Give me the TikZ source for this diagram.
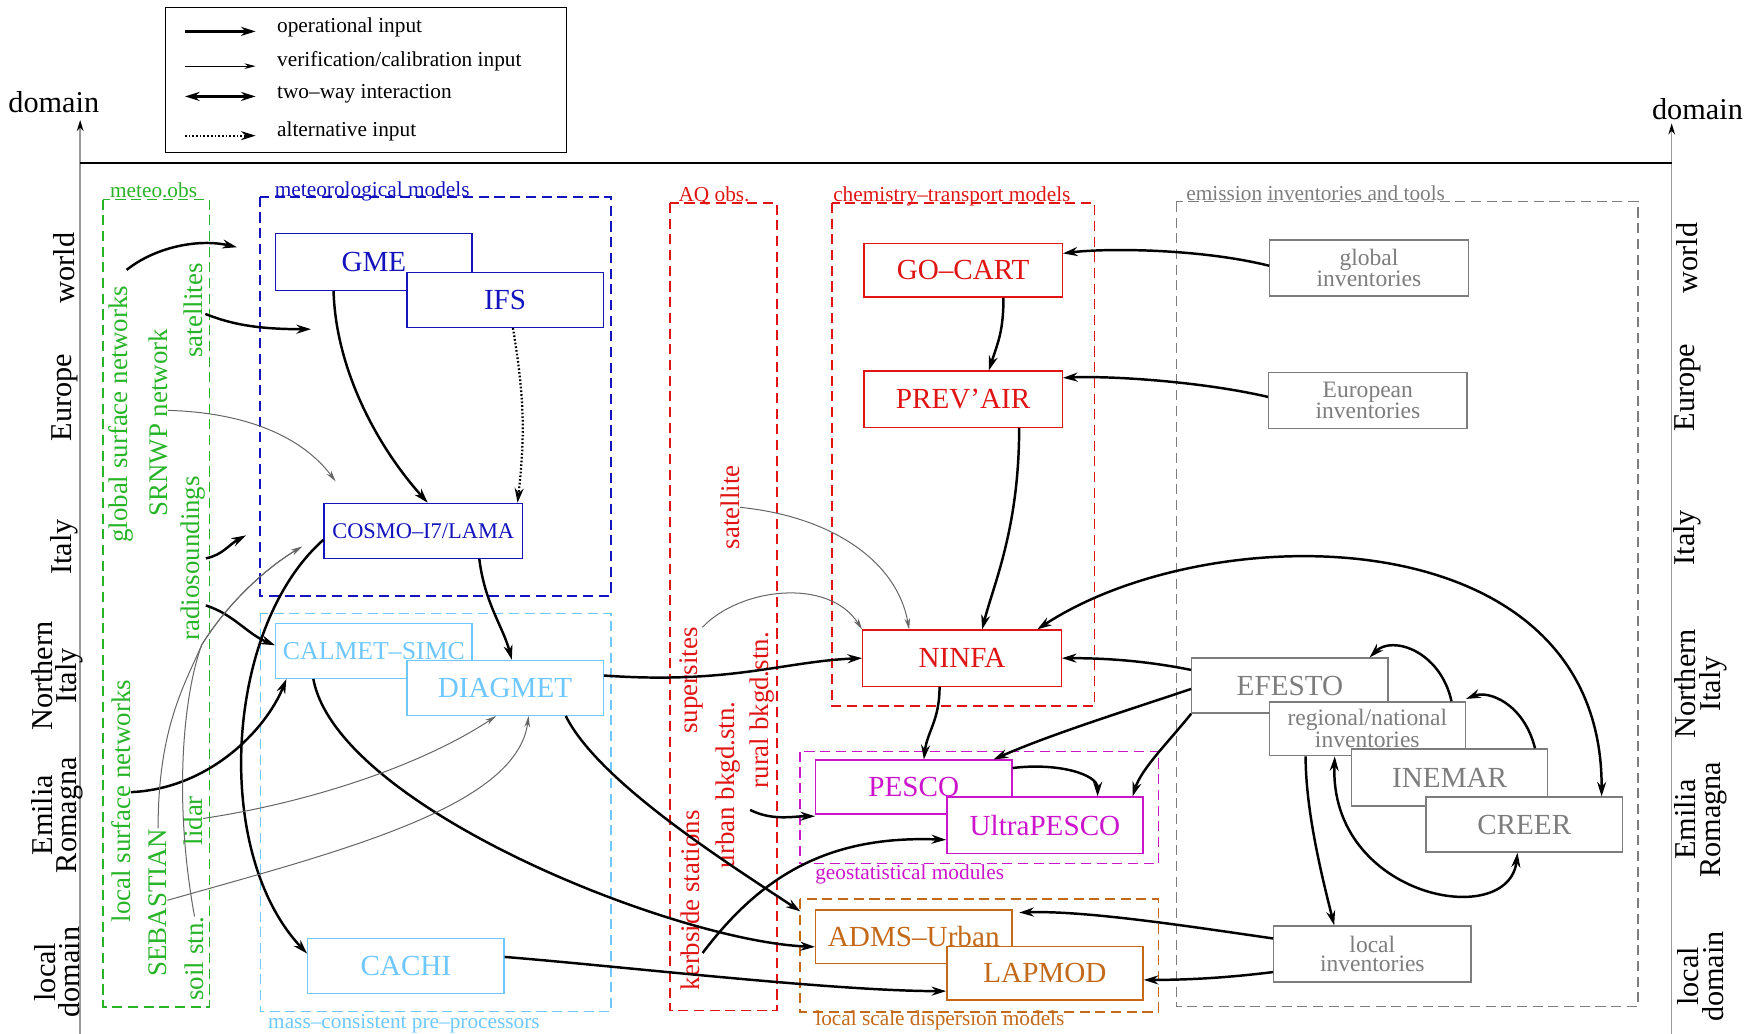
\documentclass[tikz,border=0pt]{standalone}
\usepackage{fontspec}
\setmainfont{Liberation Serif}
\usetikzlibrary{arrows.meta}

\definecolor{obsgreen}{RGB}{40,180,40}
\definecolor{metblue}{RGB}{20,20,190}
\definecolor{preblue}{RGB}{110,200,255}
\definecolor{aqred}{RGB}{225,20,20}
\definecolor{geomag}{RGB}{205,20,205}
\definecolor{dispbrown}{RGB}{195,105,25}
\definecolor{emisgray}{RGB}{125,125,125}

\tikzset{
  box/.style={draw, rectangle, fill=white, line width=1.2pt, minimum width=175pt,
    minimum height=49pt, inner sep=0pt, font=\fontsize{26}{28}\selectfont},
  metbox/.style={box, draw=metblue, text=metblue},
  prebox/.style={box, draw=preblue, text=preblue},
  ctmbox/.style={box, draw=aqred, text=aqred},
  geobox/.style={box, draw=geomag, text=geomag},
  dispbox/.style={box, draw=dispbrown, text=dispbrown},
  emisbox/.style={box, draw=emisgray, text=emisgray},
  invbox/.style={emisbox, align=center, font=\fontsize{21}{17}\selectfont},
  op/.style={-{Stealth[length=13pt,width=8pt]}, line width=2.2pt},
  twoway/.style={{Stealth[length=13pt,width=8pt]}-{Stealth[length=13pt,width=8pt]}, line width=2.2pt},
  alt/.style={-{Stealth[length=13pt,width=8pt]}, line width=2pt, dash pattern=on 1.5pt off 1.8pt},
  ver/.style={-{Stealth[length=10pt,width=5pt]}, line width=0.9pt, black!60},
  grp/.style={line width=1.3pt, dash pattern=on 9pt off 5pt},
  glabel/.style={anchor=base west, inner sep=0pt, font=\fontsize{19}{19}\selectfont},
  obs/.style={rotate=90, inner sep=0pt, font=\fontsize{24}{24}\selectfont},
  dom/.style={rotate=90, inner sep=0pt, align=center, font=\fontsize{27}{22}\selectfont},
  key/.style={anchor=base west, inner sep=0pt, font=\fontsize{19}{19}\selectfont},
  axis/.style={line width=1.3pt, black!40, -{Stealth[length=10pt,width=6pt,color=black]}},
}

\begin{document}
\begin{tikzpicture}[x=1pt, y=-1pt]
  \useasboundingbox (0,0) rectangle (1568,922);

  % Legend
  \draw[line width=1.2pt] (147.5,6.5) rectangle (505,136);
  \coordinate (k1a) at (165,28);  \coordinate (k1b) at (228,28);
  \coordinate (k2a) at (165,59);  \coordinate (k2b) at (228,59);
  \coordinate (k3a) at (165,86);  \coordinate (k3b) at (228,86);
  \coordinate (k4a) at (165,121); \coordinate (k4b) at (228,121);
  \draw[op] (k1a) -- (k1b);
  \draw[ver, black, line width=1.1pt] (k2a) -- (k2b);
  \draw[twoway] (k3a) -- (k3b);
  \draw[alt] (k4a) -- (k4b);
  \node[key] (kop) at (247,29) {operational input};
  \node[key] (kver) at (247,59) {verification/calibration input};
  \node[key] (ktwo) at (247,88) {two--way interaction};
  \node[key] (kalt) at (247,122) {alternative input};

  % Domain axes
  \coordinate (axLb) at (71.5,922); \coordinate (axLt) at (71.5,107);
  \coordinate (axRb) at (1491,922); \coordinate (axRt) at (1491,110);
  \coordinate (topL) at (71.5,145); \coordinate (topR) at (1491,145);
  \draw[axis] (axLb) -- (axLt);
  \draw[axis] (axRb) -- (axRt);
  \draw[line width=1.8pt] (topL) -- (topR);
  \node[font=\fontsize{27}{27}\selectfont] (domL) at (48,91) {domain};
  \node[font=\fontsize{27}{27}\selectfont] (domR) at (1514,97) {domain};

  \node[dom] (wL) at (57.5,239) {world};
  \node[dom] (eL) at (57.5,354.5) {Europe};
  \node[dom] (iL) at (57.5,488) {Italy};
  \node[dom] (niL) at (51,603) {Northern\\Italy};
  \node[dom] (erL) at (51,727) {Emilia\\Romagna};
  \node[dom] (ldL) at (51,867) {local\\domain};
  \node[dom] (wR) at (1505,230) {world};
  \node[dom] (eR) at (1505,345.5) {Europe};
  \node[dom] (iR) at (1505,479.5) {Italy};
  \node[dom] (niR) at (1517,610) {Northern\\Italy};
  \node[dom] (erR) at (1517,731) {Emilia\\Romagna};
  \node[dom] (ldR) at (1517,871) {local\\domain};

  % Groups
  \draw[grp, obsgreen] (92,178) rectangle (187,898);
  \node[glabel, text=obsgreen] (gobs) at (98,176) {meteo.obs};
  \draw[grp, metblue] (232,175.5) rectangle (545,531.5);
  \node[glabel, text=metblue] (gmet) at (245,175) {meteorological models};
  \draw[grp, preblue, line width=1pt] (232,547) rectangle (545,902.5);
  \node[glabel, text=preblue] (gpre) at (239,917) {mass--consistent pre--processors};
  \draw[grp, aqred] (597.5,181) rectangle (693,901.5);
  \node[glabel, text=aqred] (gaq) at (605,180) {AQ obs.};
  \draw[grp, aqred] (742,181) rectangle (976,629.5);
  \node[glabel, text=aqred] (gctm) at (743,180) {chemistry--transport models};
  \draw[grp, geomag] (713.5,670.5) rectangle (1033.5,770);
  \node[glabel, text=geomag] (ggeo) at (727,784) {geostatistical modules};
  \draw[grp, dispbrown] (713.5,802) rectangle (1033.5,902.5);
  \node[glabel, text=dispbrown] (gdisp) at (727,915) {local scale dispersion models};
  \draw[grp, emisgray, line width=1pt] (1049,180) rectangle (1461,898);
  \node[glabel, text=emisgray] (gemis) at (1058,179) {emission inventories and tools};

  % Observations
  \node[obs, text=obsgreen] (gsn) at (108,369.5) {global surface networks};
  \node[obs, text=obsgreen] (srnwp) at (141,377) {SRNWP network};
  \node[obs, text=obsgreen] (sats) at (172.5,277) {satellites};
  \node[obs, text=obsgreen] (radio) at (172.5,498) {radiosoundings};
  \node[obs, text=obsgreen] (lsn) at (108,714.5) {local surface networks};
  \node[obs, text=obsgreen] (seb) at (141,805) {SEBASTIAN};
  \node[obs, text=obsgreen] (lidar) at (172.5,732) {lidar};
  \node[obs, text=obsgreen] (soil) at (173.5,855) {soil stn.};
  \node[obs, text=aqred] (sat) at (651.5,452.5) {satellite};
  \node[obs, text=aqred] (super) at (616.5,607) {supersites};
  \node[obs, text=aqred] (urban) at (649,700) {urban bkgd.stn.};
  \node[obs, text=aqred] (rural) at (680,633.5) {rural bkgd.stn.};
  \node[obs, text=aqred] (kerb) at (616,803) {kerbside stations};

  % Models
  \node[metbox, minimum height=51pt] (GME) at (333.5,233.5) {GME};
  \node[metbox] (IFS) at (450.5,267.5) {IFS};
  \node[metbox, minimum width=177pt, font=\fontsize{20}{20}\selectfont] (COSMO) at (377.5,473.5) {COSMO--I7/LAMA};
  \node[prebox, font=\fontsize{23}{23}\selectfont] (CALMET) at (333.5,580.5) {CALMET--SIMC};
  \node[prebox] (DIAGMET) at (450.5,613.5) {DIAGMET};
  \node[prebox] (CACHI) at (362,861.5) {CACHI};
  \node[ctmbox, minimum width=177pt, minimum height=48pt] (GOCART) at (859,241) {GO--CART};
  \node[ctmbox, minimum width=177pt, minimum height=50pt] (PREVAIR) at (859,356) {PREV’AIR};
  \node[ctmbox, minimum width=177pt, minimum height=50pt] (NINFA) at (858,587) {NINFA};
  \node[geobox, minimum height=48pt] (PESCO) at (815,702) {PESCO};
  \node[geobox, minimum height=50pt] (UPESCO) at (932,736) {UltraPESCO};
  \node[dispbox, minimum height=48pt] (ADMS) at (815,835.5) {ADMS--Urban};
  \node[dispbox, minimum height=48pt] (LAPMOD) at (932,868) {LAPMOD};
  \node[invbox, minimum width=177pt, minimum height=50pt] (GLOB) at (1221,239) {global\\inventories};
  \node[invbox, minimum width=177pt, minimum height=50pt] (EURO) at (1220,357) {European\\inventories};
  \node[emisbox] (EFESTO) at (1150.5,611.5) {EFESTO};
  \node[invbox, minimum height=48pt] (REG) at (1219.5,650) {regional/national\\inventories};
  \node[emisbox, minimum height=51pt] (INEMAR) at (1293,693.5) {INEMAR};
  \node[emisbox] (CREER) at (1359.5,735.5) {CREER};
  \node[invbox, minimum width=176pt, minimum height=50pt] (LOCAL) at (1224,851) {local\\inventories};

  % Operational input
  \draw[op] ([xshift=5pt,yshift=14pt]gsn.east) .. controls +(25,-20) and +(-35,-8) .. ([xshift=-34pt,yshift=13pt]GME.west);
  \draw[op] ([xshift=2pt,yshift=-3pt]sats.south) .. controls +(25,10) and +(-45,0) .. ([xshift=32pt,yshift=-34pt]GME.south west);
  \draw[op] (radio.south) .. controls +(15,-3) and +(-15,8) .. ([xshift=-69pt,yshift=-4pt]COSMO.west);
  \draw[op] ([yshift=-42pt]radio.south) .. controls +(25,8) and +(-25,-10) .. ([yshift=5pt]CALMET.west);
  \draw[op] ([yshift=8pt]lsn.south) .. controls +(70,-3) and +(-18,45) .. ([xshift=10pt]CALMET.south west);
  \draw[op] ([yshift=-8pt]COSMO.west) .. controls +(-88,78) and +(-85,-90) .. ([yshift=11pt]CACHI.west);
  \draw[op] ([xshift=-36pt]GME.south) .. controls +(2,70) and +(-45,-50) .. ([xshift=4pt]COSMO.north);
  \draw[alt] ([xshift=7pt]IFS.south) to[bend left=8] ([xshift=-5pt]COSMO.north east);
  \draw[op] ([xshift=50pt]COSMO.south) .. controls +(5,40) and +(-8,-30) .. ([xshift=6pt]DIAGMET.north);
  \draw[op] ([yshift=11pt]DIAGMET.east) .. controls +(112,8) and +(-70,3) .. (NINFA.west);
  \draw[op] ([xshift=-34pt]DIAGMET.south east) .. controls +(30,60) and +(-60,-40) .. ([xshift=-13pt,yshift=-2pt]ADMS.north west);
  \draw[op] ([xshift=-54pt]CALMET.south) .. controls +(21,114) and +(-125,-5) .. ([yshift=-9pt]ADMS.west);
  \draw[op] ([yshift=8pt]CACHI.east) .. controls +(100,8) and +(-100,0) .. ([yshift=-16pt]LAPMOD.west);
  \draw[op] ([xshift=2pt,yshift=-47pt]kerb.south) .. controls +(53,-70) and +(-104,-4) .. ([yshift=-13pt]UPESCO.west);
  \draw[op] ([xshift=-11pt,yshift=-19pt]rural.west) .. controls +(20,10) and +(-20,0) .. ([yshift=-26pt]PESCO.west);
  \draw[op] ([xshift=36pt]GOCART.south) .. controls +(0,30) and +(8,-25) .. ([xshift=23pt]PREVAIR.north);
  \draw[op] ([xshift=50pt]PREVAIR.south) .. controls +(0,90) and +(10,-40) .. ([xshift=18pt]NINFA.north);
  \draw[op] ([xshift=-20pt]NINFA.south) .. controls +(0,30) and +(3,-25) .. ([xshift=9pt]PESCO.north);
  \draw[op] ([yshift=2pt]GLOB.west) .. controls +(-60,-15) and +(40,-5) .. ([yshift=15pt]GOCART.east);
  \draw[op] ([yshift=3pt]EURO.west) .. controls +(-60,-14) and +(40,-2) .. ([yshift=19pt]PREVAIR.east);
  \draw[op] ([yshift=14pt]EFESTO.west) .. controls +(-40,-8) and +(40,0) .. (NINFA.east);
  \draw[op] ([yshift=-3pt]EFESTO.west) .. controls +(-60,20) and +(50,-22) .. ([xshift=-17pt]PESCO.north east);
  \draw[op] (EFESTO.south west) .. controls +(-20,25) and +(8,-25) .. ([xshift=-10pt]UPESCO.north east);
  \draw[op] ([yshift=17pt]PESCO.east) .. controls +(40,-5) and +(0,-20) .. ([xshift=47pt]UPESCO.north);
  \draw[twoway] ([xshift=-22pt]NINFA.north east) .. controls +(155,-102) and +(1,-251) .. ([xshift=69pt]CREER.north);
  \draw[op] ([xshift=-13pt]REG.north east) .. controls +(-10,-45) and +(20,-20) .. ([xshift=-17pt]EFESTO.north east);
  \draw[op] ([xshift=-12pt]INEMAR.north east) .. controls +(-10,-40) and +(20,-8) .. ([yshift=2pt]REG.north east);
  \draw[twoway] ([xshift=-29pt]REG.south) .. controls +(-5,126) and +(-8,70) .. ([xshift=-6pt]CREER.south);
  \draw[op] ([xshift=-55pt]REG.south) .. controls +(0,50) and +(-10,-40) .. ([xshift=-34pt]LOCAL.north);
  \draw[op] ([yshift=14pt]LOCAL.west) .. controls +(-70,-10) and +(60,-2) .. ([xshift=6pt,yshift=-3pt]ADMS.north east);
  \draw[op] ([yshift=-16pt]LOCAL.west) .. controls +(-40,5) and +(40,0) .. ([yshift=-6pt]LAPMOD.east);

  % Verification/calibration input
  \coordinate (join) at (180,575);
  \draw[ver] ([yshift=11pt]srnwp.south) .. controls +(70,2) and +(-30,-40) .. ([xshift=11pt,yshift=19pt]COSMO.north west);
  \draw[ver] (seb.east) .. controls +(0,-90) and (165,610) .. (join) .. controls (205,535) and (240,505) .. ([xshift=-19pt,yshift=-14pt]COSMO.west);
  \draw[ver] (soil.east) .. controls +(-20,-110) and (165,615) .. (join) .. controls (205,535) and (240,505) .. ([xshift=-19pt,yshift=-14pt]COSMO.west);
  \draw[ver] ([yshift=2pt]lidar.south) .. controls +(100,-15) and +(-63,42) .. ([xshift=-8pt]DIAGMET.south);
  \draw[ver] ([yshift=2pt]seb.south) .. controls +(151,-43) and +(-11,82) .. ([xshift=21pt]DIAGMET.south);
  \draw[ver] (sat.south) .. controls +(80,8) and +(-11,-62) .. ([xshift=42pt]NINFA.north west);
  \draw[ver] ([xshift=10pt]super.east) .. controls +(33,-35) and +(-30,-47) .. (NINFA.north west);
\end{tikzpicture}
\end{document}
